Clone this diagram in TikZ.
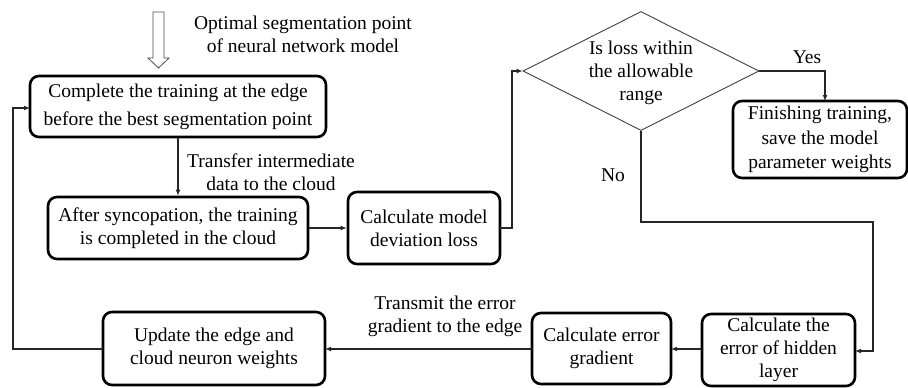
\documentclass[tikz,border=0pt]{standalone}
\usepackage{fontspec}
\setmainfont{Liberation Serif}
\usetikzlibrary{shapes.geometric,arrows.meta}

\begin{document}
\begin{tikzpicture}[x=1pt,y=-1pt,
  every node/.style={font=\fontsize{19.5}{23}\selectfont, align=center, inner sep=0pt},
  stepbox/.style={draw, line width=2.6pt, rounded corners=9pt},
  decision/.style={draw=black!75, line width=0.9pt, diamond, aspect=2},
  flow/.style={draw=black!85, line width=1.3pt, -{Latex[length=6pt,width=5pt]}},
  plainline/.style={draw=black!85, line width=1.3pt},
  hollowarrow/.style={draw=black!70, line width=0.8pt, fill=white}
]
\useasboundingbox (0,0) rectangle (908,388);

% process steps
\node[stepbox, minimum width=296pt, minimum height=61pt,
      font=\fontsize{19.5}{28}\selectfont] (edge) at (178,106.5)
  {Complete the training at the edge\\before the best segmentation point};
\node[stepbox, minimum width=260pt, minimum height=62pt] (cloud) at (178,228)
  {After syncopation, the training\\is completed in the cloud};
\node[stepbox, minimum width=152pt, minimum height=72pt] (loss) at (424,228)
  {Calculate model\\deviation loss};
\node[draw=black!75, line width=0.9pt, diamond, minimum width=236pt, minimum height=119pt] (check) at (641,71) {};
\node at (641,73) {Is loss within\\the allowable\\range};
\node[stepbox, minimum width=174pt, minimum height=77pt,
      font=\fontsize{19.5}{24.5}\selectfont] (finish) at (820,139.5)
  {Finishing training,\\save the model\\parameter weights};
\node[stepbox, minimum width=153pt, minimum height=72pt] (hidden) at (778.5,350)
  {Calculate the\\error of hidden\\layer};
\node[stepbox, minimum width=139pt, minimum height=71pt] (grad) at (601.5,348.5)
  {Calculate error\\gradient};
\node[stepbox, minimum width=222pt, minimum height=73pt] (update) at (214,348.5)
  {Update the edge and\\cloud neuron weights};

% input marker above the first step
\node (optlabel) at (303,34) {Optimal segmentation point\\of neural network model};
\draw[hollowarrow] (153,12) -- (164,12) -- (164,58) -- (169,58) -- (158.5,68)
  -- (148,58) -- (153,58) -- cycle;

% connector labels
\node (translabel) at (271,172) {Transfer intermediate\\data to the cloud};
\node (backlabel) at (445,316) {Transmit the error\\gradient to the edge};
\node (yeslabel) at (807,57) {Yes};
\node (nolabel) at (613,175) {No};

% connectors
\coordinate (loopin) at (30,108);
\coordinate (lossout) at (500,228);
\draw[flow] (edge.south) -- (cloud.north);
\draw[flow] (cloud.east) -- (loss.west);
\draw[flow] (lossout) -- (512,228) -- (512,71) -- (check.west);
\draw[flow] (check.east) -- (825,71) -- (825,101);
\draw[flow] (check.south) -- (641,222) -- (873,222) -- (873,351) -- (855,351);
\draw[flow] (hidden.west |- 0,349) -- (671,349);
\draw[flow] (532,349) -- (325,349);
\draw[flow] (103,349) -- (13,349) -- (13,108) -- (loopin);
\end{tikzpicture}
\end{document}
